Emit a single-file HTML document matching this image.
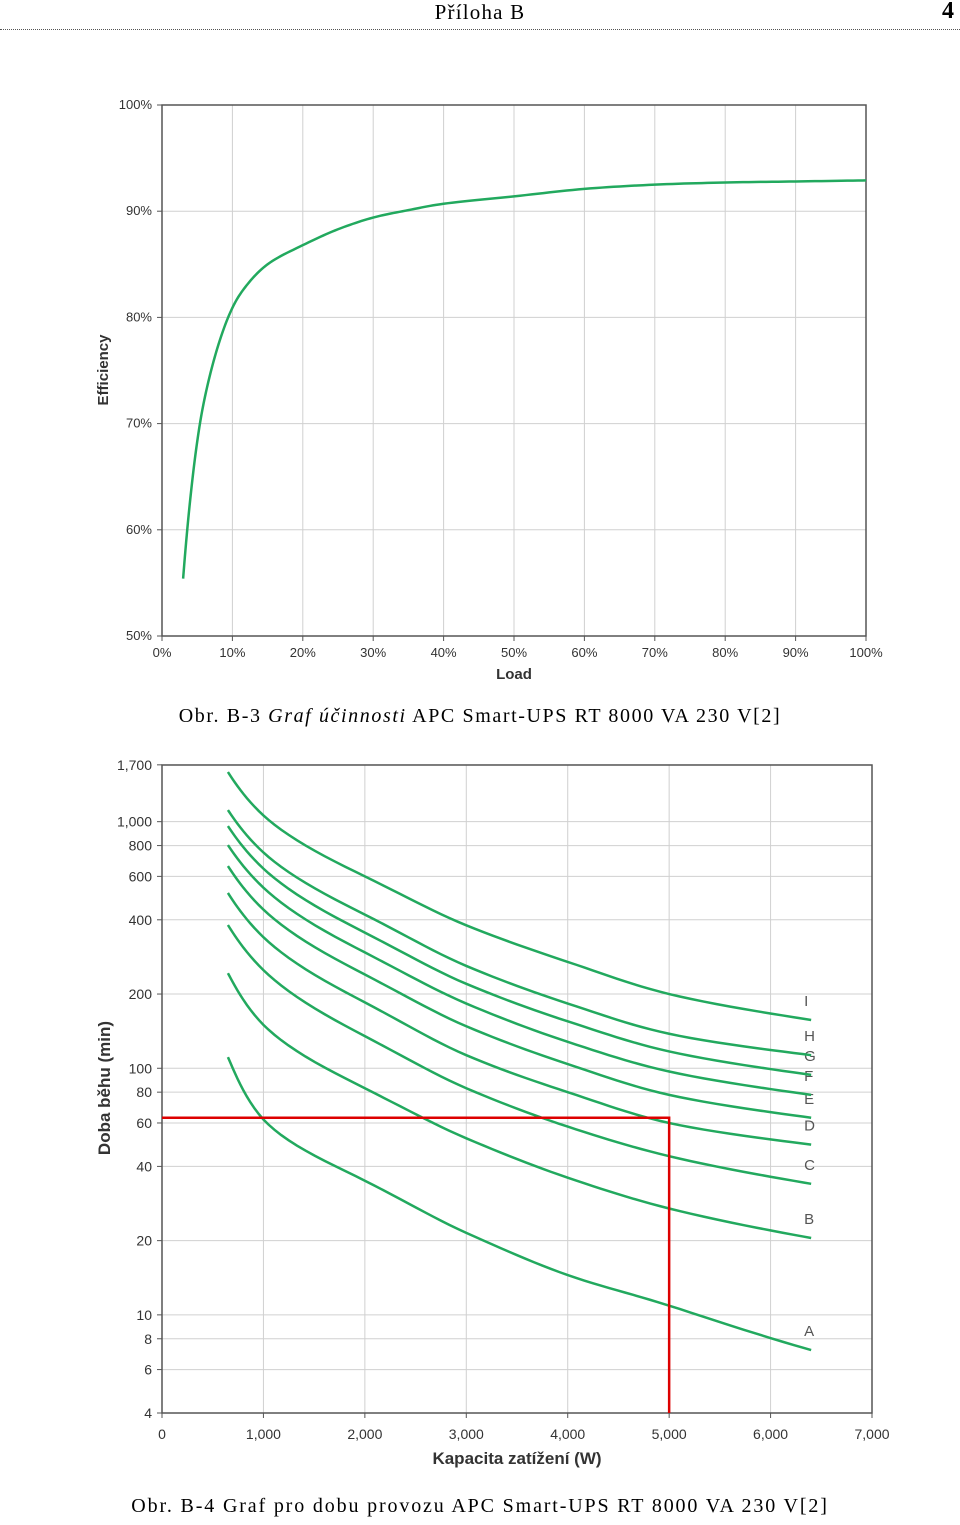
<!DOCTYPE html>
<html><head><meta charset="utf-8"><style>
body{margin:0;background:#fff;width:960px;height:1525px;position:relative;overflow:hidden}
.t{position:absolute;font-family:"Liberation Serif",serif;color:#000}
</style></head><body>
<div class="t" style="left:0;width:960px;top:0;text-align:center;font-size:21px;letter-spacing:1.2px">Příloha B</div>
<div class="t" style="right:6px;top:-2px;font-size:24px;font-weight:bold">4</div>
<div style="position:absolute;left:0;top:29px;width:960px;border-top:1px dotted #555"></div>
<div class="t" style="left:0;width:960px;top:705px;text-align:center;font-size:20px;letter-spacing:1.6px">Obr. B-3 <i>Graf účinnosti</i> APC Smart-UPS RT 8000 VA 230 V[2]</div>
<div class="t" style="left:0;width:960px;top:1495px;text-align:center;font-size:20px;letter-spacing:1.85px">Obr. B-4 Graf pro dobu provozu APC Smart-UPS RT 8000 VA 230 V[2]</div>
<svg id="s" width="960" height="1525" style="position:absolute;left:0;top:0" font-family="Liberation Sans, sans-serif"></svg>
<script>
// Chart 1 data
const effLoad=[3,4,5,6,8,10,12,15,20,25,30,35,40,50,60,70,80,90,100];
const effVal=[55.4,62.8,68.3,72.2,77.4,80.9,83,85,86.8,88.3,89.4,90.1,90.7,91.4,92.1,92.5,92.7,92.8,92.9];
const effXTicks=["0%","10%","20%","30%","40%","50%","60%","70%","80%","90%","100%"];
const effYTicks=["50%","60%","70%","80%","90%","100%"];
// Chart 2 data
const loadW=[650,1000,2000,3000,4000,5000,6400];
const seriesNames=["A","B","C","D","E","F","G","H","I"];
const sA=[111,62,35,21.5,14.5,10.9,7.2];
const sB=[243,150,83,52,36,27,20.5];
const sC=[381,250,135,83,58,44,34];
const sD=[514,340,185,113,80,60,49];
const sE=[661,440,240,148,104,78,63];
const sF=[804,540,295,183,128,97,78];
const sG=[960,645,355,220,155,117,94];
const sH=[1115,750,420,260,183,138,113];
const sI=[1590,1060,600,380,270,200,157];
const rtXTicks=["0","1,000","2,000","3,000","4,000","5,000","6,000","7,000"];
const rtYTickVals=[1700,1000,800,600,400,200,100,80,60,40,20,10,8,6,4];
const rtYTickLabels=["1,700","1,000","800","600","400","200","100","80","60","40","20","10","8","6","4"];
const refLoad=5000, refTime=63;

const svg=document.getElementById('s');const NS="http://www.w3.org/2000/svg";
function el(tag,at,name,txt){const e=document.createElementNS(NS,tag);for(const k in at)e.setAttribute(k,at[k]);


if(txt!==undefined)e.textContent=txt;svg.appendChild(e);return e;}
// centripetal-ish Catmull-Rom sampling in an arbitrary space
function crSample(p,n){const out=[];for(let i=0;i<p.length-1;i++){const p0=p[i-1]||p[i],p1=p[i],p2=p[i+1],p3=p[i+2]||p2;
 for(let s=0;s<n;s++){const t=s/n,t2=t*t,t3=t2*t;const f=(a,b,c,d)=>0.5*((2*b)+(-a+c)*t+(2*a-5*b+4*c-d)*t2+(-a+3*b-3*c+d)*t3);
 out.push([f(p0[0],p1[0],p2[0],p3[0]),f(p0[1],p1[1],p2[1],p3[1])]);}}
 out.push(p[p.length-1]);return out;}
const green="#22a95e";
// chart 1
const x1=v=>162+v*7.04, y1=v=>636-(v-50)*10.62;
effXTicks.forEach((t,i)=>{const x=x1(i*10);
 el('line',{x1:x,x2:x,y1:105,y2:636,stroke:'#d0d0d0'},'eff-x-grid');
 el('line',{x1:x,x2:x,y1:636,y2:641,stroke:'#555'},'eff-x-tick');
 el('text',{x:x,y:657,'font-size':13,'text-anchor':'middle',fill:'#333'},'eff-x-tick-label',t);});
effYTicks.forEach((t,i)=>{const y=y1(50+i*10);
 el('line',{x1:162,x2:866,y1:y,y2:y,stroke:'#d0d0d0'},'eff-y-grid');
 el('line',{x1:157,x2:162,y1:y,y2:y,stroke:'#555'},'eff-y-tick');
 el('text',{x:152,y:y+4,'font-size':13,'text-anchor':'end',fill:'#333'},'eff-y-tick-label',t);});
el('rect',{x:162,y:105,width:704,height:531,fill:'none',stroke:'#555','stroke-width':1.5},'eff-plot-frame');
{const lp=effLoad.map((l,i)=>[Math.log(l),effVal[i]]);const sm=crSample(lp,12);
 el('polyline',{points:sm.map(q=>x1(Math.exp(q[0]))+","+y1(q[1])).join(" "),fill:'none',stroke:green,'stroke-width':2.5},'efficiency-line');}
el('text',{x:514,y:679,'font-size':15,'font-weight':'bold','text-anchor':'middle',fill:'#333'},'eff-x-axis-title','Load');
el('text',{x:108,y:370,'font-size':15,'font-weight':'bold','text-anchor':'middle',fill:'#333',transform:'rotate(-90 108 370)'},'eff-y-axis-title','Efficiency');
// chart 2
const x2=v=>162+v*0.10143, lg0=Math.log10(4), y2=v=>1413-(Math.log10(v)-lg0)*246.6;
rtXTicks.forEach((t,i)=>{const x=x2(i*1000);
 el('line',{x1:x,x2:x,y1:765,y2:1413,stroke:'#d0d0d0'},'rt-x-grid');
 el('line',{x1:x,x2:x,y1:1413,y2:1418,stroke:'#555'},'rt-x-tick');
 el('text',{x:x,y:1439,'font-size':14,'text-anchor':'middle',fill:'#333'},'rt-x-tick-label',t);});
rtYTickVals.forEach((v,i)=>{const y=y2(v);
 el('line',{x1:162,x2:872,y1:y,y2:y,stroke:'#d0d0d0'},'rt-y-grid');
 el('line',{x1:157,x2:162,y1:y,y2:y,stroke:'#555'},'rt-y-tick');
 el('text',{x:152,y:y+5,'font-size':14,'text-anchor':'end',fill:'#333'},'rt-y-tick-label',rtYTickLabels[i]);});
el('rect',{x:162,y:765,width:710,height:648,fill:'none',stroke:'#555','stroke-width':1.5},'rt-plot-frame');
const allS=[sA,sB,sC,sD,sE,sF,sG,sH,sI];
allS.forEach((s,k)=>{
 const lp=loadW.map((w,i)=>[Math.log10(w),Math.log10(s[i])]);const sm=crSample(lp,12);
 el('polyline',{points:sm.map(q=>x2(Math.pow(10,q[0]))+","+y2(Math.pow(10,q[1]))).join(" "),fill:'none',stroke:green,'stroke-width':2.5},'runtime-line-'+seriesNames[k].toLowerCase());
 el('text',{x:x2(loadW[loadW.length-1])-7,y:y2(s[s.length-1])-14,'font-size':15,fill:'#555'},'series-label-'+seriesNames[k].toLowerCase(),seriesNames[k]);});
el('polyline',{points:`162,${y2(refTime)} ${x2(refLoad)},${y2(refTime)} ${x2(refLoad)},1413`,fill:'none',stroke:'#d00','stroke-width':2.5},'reference-line');
el('text',{x:517,y:1464,'font-size':17,'font-weight':'bold','text-anchor':'middle',fill:'#333'},'rt-x-axis-title','Kapacita zatížení (W)');
el('text',{x:110,y:1088,'font-size':17,'font-weight':'bold','text-anchor':'middle',fill:'#333',transform:'rotate(-90 110 1088)'},'rt-y-axis-title','Doba běhu (min)');
</script>
</body></html>
